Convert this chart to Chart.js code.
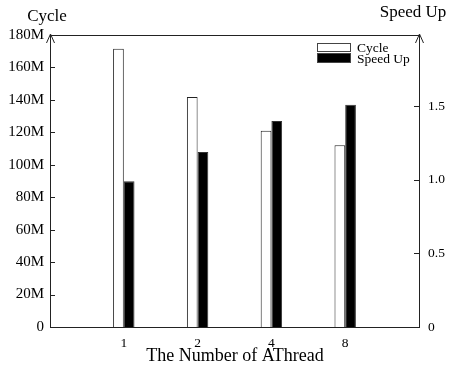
<!DOCTYPE html>
<html>
<head>
<meta charset="utf-8">
<script src="https://cdn.jsdelivr.net/npm/chart.js@4/dist/chart.umd.min.js"></script>
<style>
  html, body { margin: 0; padding: 0; background: #fff; }
  #wrap { width: 453px; height: 367px; position: relative; }
</style>
</head>
<body>
<div id="wrap"><canvas id="c" width="453" height="367"></canvas></div>
<script>
// values
const threads = ['1', '2', '4', '8'];
const cycles = [171.5e6, 141.8e6, 120.9e6, 112.1e6];
const speedUp = [0.99, 1.19, 1.40, 1.51];
const cycleTicks = [0, 20e6, 40e6, 60e6, 80e6, 100e6, 120e6, 140e6, 160e6, 180e6];
const speedTicks = [0, 0.5, 1.0, 1.5];

const FONT = 'Liberation Serif';

// empty slot on each side, like the original
const labels = ['', ...threads, ''];
const pad = arr => [null, ...arr, null];

const decorations = {
    id: 'decorations',
    afterDraw(chart) {
        const { ctx, chartArea: a } = chart;
        const yl = chart.scales.y, yr = chart.scales.y2;
        ctx.save();
        ctx.strokeStyle = '#222';
        ctx.lineWidth = 1;

        // top frame line
        ctx.beginPath();
        ctx.moveTo(a.left, a.top + 0.5);
        ctx.lineTo(a.right, a.top + 0.5);
        ctx.stroke();

        // inward tick marks
        ctx.beginPath();
        cycleTicks.forEach(v => {
            const y = Math.round(yl.getPixelForValue(v)) + 0.5;
            ctx.moveTo(a.left, y); ctx.lineTo(a.left + 5, y);
        });
        speedTicks.forEach(v => {
            const y = Math.round(yr.getPixelForValue(v)) + 0.5;
            ctx.moveTo(a.right, y); ctx.lineTo(a.right - 5, y);
        });
        ctx.stroke();

        // arrow heads on both y axes
        [a.left + 0.5, a.right + 0.5].forEach(x => {
            ctx.beginPath();
            ctx.moveTo(x - 4, a.top + 8);
            ctx.lineTo(x, a.top - 1);
            ctx.lineTo(x + 4, a.top + 8);
            ctx.stroke();
        });

        // axis titles
        ctx.fillStyle = '#000';
        ctx.textBaseline = 'alphabetic';
        ctx.font = '17px "' + FONT + '"';
        ctx.textAlign = 'center';
        ctx.fillText('Cycle', 47, 21);
        ctx.fillText('Speed Up', 413, 17);
        ctx.font = '18px "' + FONT + '"';
        ctx.fillText('The Number of AThread', 235, 361);

        // legend
        ctx.strokeStyle = '#444';
        ctx.fillStyle = '#fff';
        ctx.fillRect(317.5, 43.5, 33, 8);
        ctx.strokeRect(317.5, 43.5, 33, 8);
        ctx.fillStyle = '#000';
        ctx.fillRect(317.5, 53.5, 33, 9);
        ctx.strokeRect(317.5, 53.5, 33, 9);
        ctx.fillStyle = '#000';
        ctx.textAlign = 'left';
        ctx.font = '13.5px "' + FONT + '"';
        ctx.fillText('Cycle', 357, 52);
        ctx.fillText('Speed Up', 357, 63);
        ctx.restore();
    }
};

new Chart(document.getElementById('c'), {
    type: 'bar',
    data: {
        labels,
        datasets: [
            {
                label: 'Cycle',
                data: pad(cycles),
                yAxisID: 'y',
                backgroundColor: '#fff',
                borderColor: '#222',
                borderWidth: 1,
                categoryPercentage: 0.29,
                barPercentage: 1.0,
            },
            {
                label: 'Speed Up',
                data: pad(speedUp),
                yAxisID: 'y2',
                backgroundColor: '#000',
                borderColor: '#333',
                borderWidth: 1,
                categoryPercentage: 0.29,
                barPercentage: 1.0,
            },
        ],
    },
    options: {
        responsive: false,
        animation: false,
        layout: { padding: { top: 35, left: 0, right: 0, bottom: 0 } },
        plugins: { legend: { display: false }, tooltip: { enabled: false } },
        scales: {
            x: {
                offset: false,
                grid: { display: false, offset: false, drawTicks: false },
                border: { display: true, color: '#222', width: 1 },
                ticks: { color: '#000', font: { family: FONT, size: 13.5 }, padding: 8, maxRotation: 0, autoSkip: false },
                afterFit: s => { s.height = 40; },
            },
            y: {
                position: 'left',
                min: 0,
                max: 180e6,
                grid: { display: false, drawTicks: false },
                border: { display: true, color: '#222', width: 1 },
                ticks: {
                    stepSize: 20e6,
                    color: '#000',
                    padding: 6,
                    font: { family: FONT, size: 15 },
                    callback: v => v === 0 ? '0' : (v / 1e6) + 'M',
                },
                afterFit: s => { s.width = 50; },
            },
            y2: {
                position: 'right',
                min: 0,
                max: 1.985,
                grid: { display: false, drawTicks: false },
                border: { display: true, color: '#222', width: 1 },
                ticks: {
                    stepSize: 0.5,
                    includeBounds: false,
                    color: '#000',
                    padding: 9,
                    font: { family: FONT, size: 13.5 },
                    callback: v => v === 0 ? '0' : v.toFixed(1),
                },
                afterFit: s => { s.width = 34; },
            },
        },
    },
    plugins: [decorations],
});
</script>
</body>
</html>
